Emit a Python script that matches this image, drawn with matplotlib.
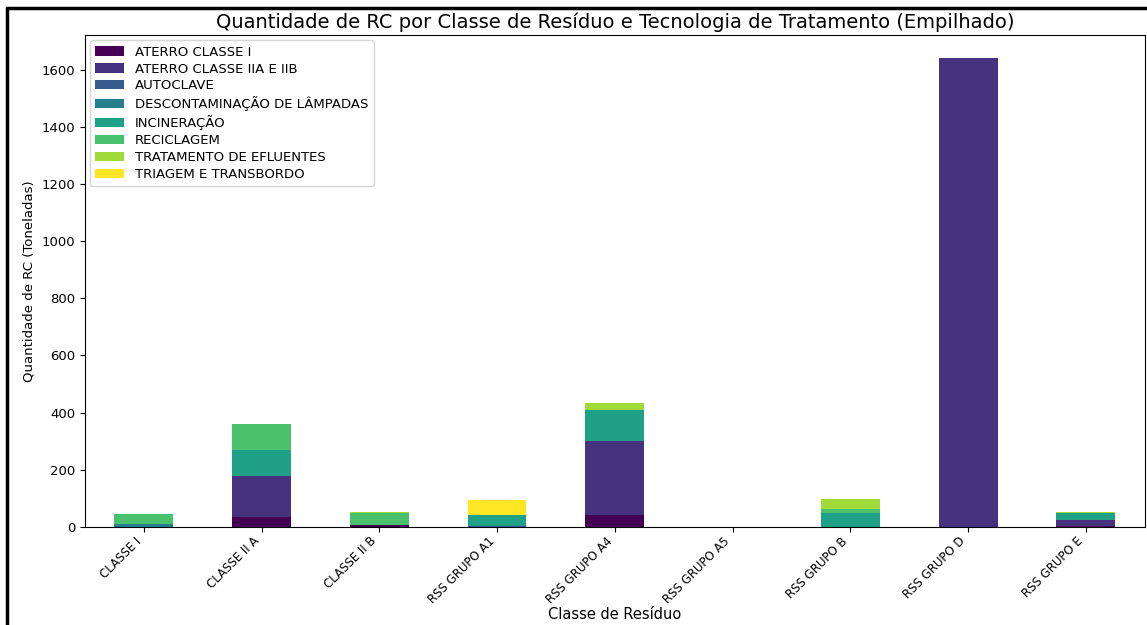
import numpy as np
import pandas as pd
import matplotlib
matplotlib.use("Agg")
import matplotlib.pyplot as plt
from matplotlib.patches import Rectangle

classes = ["CLASSE I", "CLASSE II A", "CLASSE II B", "RSS GRUPO A1", "RSS GRUPO A4",
           "RSS GRUPO A5", "RSS GRUPO B", "RSS GRUPO D", "RSS GRUPO E"]

aterro_i = [0, 34, 8, 0, 42, 0, 0, 0, 4.5]
aterro_ii = [0, 145, 0, 0, 259, 0, 0, 1640, 19]
autoclave = [0, 0, 0, 3, 0, 0, 0, 0, 0]
descontaminacao = [9, 0, 0, 0, 0, 0, 0, 0, 0]
incineracao = [0, 91, 0, 40, 107, 0, 50, 0, 25]
reciclagem = [36, 90, 41, 0, 0, 0, 14, 0, 0]
efluentes = [0, 0, 3.5, 0, 26, 0, 34, 0, 3.5]
triagem = [0, 0, 0, 50, 0, 0, 0, 0, 0]

df = pd.DataFrame({
    "ATERRO CLASSE I": aterro_i,
    "ATERRO CLASSE IIA E IIB": aterro_ii,
    "AUTOCLAVE": autoclave,
    "DESCONTAMINAÇÃO DE LÂMPADAS": descontaminacao,
    "INCINERAÇÃO": incineracao,
    "RECICLAGEM": reciclagem,
    "TRATAMENTO DE EFLUENTES": efluentes,
    "TRIAGEM E TRANSBORDO": triagem,
}, index=classes)

fig = plt.figure(figsize=(11.47, 6.25), dpi=100)
ax = fig.add_axes([0.074, 0.157, 0.924, 0.787])
df.plot(kind="bar", stacked=True, colormap="viridis", ax=ax, width=0.5)

ax.set_title("Quantidade de RC por Classe de Resíduo e Tecnologia de Tratamento (Empilhado)",
             fontsize=14, pad=5)
ax.set_xlabel("Classe de Resíduo", fontsize=10.5, labelpad=1)
ax.set_ylabel("Quantidade de RC (Toneladas)", fontsize=9.5)
ax.set_xticklabels(classes, rotation=45, ha="right", fontsize=8.5)
ax.tick_params(axis="y", labelsize=9.5)
ax.tick_params(axis="x", pad=2)
ax.legend(loc="upper left", fontsize=9.5, handlelength=2.2, labelspacing=0.3,
          borderaxespad=0.4)

# screenshot frame
fig.add_artist(Rectangle((0.006, -0.01), 1.0, 0.998, transform=fig.transFigure,
                         fill=False, edgecolor="black", lw=2.5))

fig.savefig("out.png", dpi=100)
